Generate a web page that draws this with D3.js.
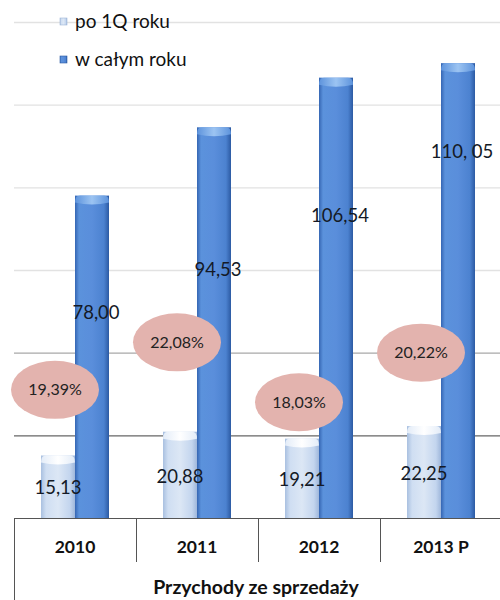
<!DOCTYPE html>
<html>
<head>
<meta charset="utf-8">
<script src="https://cdn.jsdelivr.net/npm/d3@7"></script>
<style>
    body { margin: 0; background: #fff; }
    svg { display: block; font-family: Lato, "Open Sans", sans-serif; }
</style>
</head>
<body>
<svg id="chart" width="500" height="600"></svg>
<script>
// Data
const years = ['2010', '2011', '2012', '2013 P'];
const q1Values = [15.13, 20.88, 19.21, 22.25];
const yearValues = [78.00, 94.53, 106.54, 110.05];
const shareLabels = ['19,39%', '22,08%', '18,03%', '20,22%'];
const seriesNames = ['po 1Q roku', 'w całym roku'];
const gridValues = [0, 20, 40, 60, 80, 100, 120];
const axisTitle = 'Przychody ze sprzedaży';

// Where the manually placed labels sit (in value units)
const yearLabelAt = [49.8, 60.2, 73.3, 88.6];
const shareLabelAt = [31, 42.5, 28, 40];

const fmt = v => v.toFixed(2).replace('.', ',');

const svg = d3.select('#chart');
const margin = { left: 14, right: -2, top: 22, bottom: 82 };
const width = 500 - margin.left - margin.right;
const height = 600 - margin.top - margin.bottom;

const x = d3.scaleBand().domain(years).range([0, width]).padding(0);
const y = d3.scaleLinear().domain([0, 120]).range([height, 0]);
const barW = 34;

const defs = svg.append('defs');
function hGrad(id, stops) {
    const g = defs.append('linearGradient').attr('id', id)
        .attr('x1', 0).attr('x2', 1).attr('y1', 0).attr('y2', 0);
    stops.forEach(s => g.append('stop').attr('offset', s[0]).attr('stop-color', s[1]));
}
hGrad('gDark', [[0, '#3566b3'], [0.12, '#5b92dc'], [0.5, '#5a8edb'], [0.85, '#4c82d0'], [1, '#2c5aa3']]);
hGrad('gLight', [[0, '#a9c0e0'], [0.15, '#cfdef2'], [0.5, '#dce7f5'], [0.85, '#c3d5ee'], [1, '#9fb7db']]);
hGrad('gDarkCap', [[0, '#5d93dc'], [0.5, '#9cc4f2'], [1, '#5d93dc']]);
hGrad('gLightCap', [[0, '#e3ecf8'], [0.5, '#ffffff'], [1, '#e3ecf8']]);

const g = svg.append('g').attr('transform', `translate(${margin.left},${margin.top})`);

// Gridlines
const gridColor = v => v === 20 ? '#666' : v === 40 ? '#a8a8a8' : '#e2e2e2';
g.selectAll('.grid')
    .data(gridValues.filter(v => v > 0))
    .join('line')
    .attr('class', 'grid')
    .attr('x1', 0).attr('x2', width)
    .attr('y1', d => y(d) + 0.5).attr('y2', d => y(d) + 0.5)
    .attr('stroke', gridColor).attr('stroke-width', 1.3);

// Bars
const rows = years.map((yr, i) => ({ yr, q1: q1Values[i], full: yearValues[i], i }));
const bandOff = (x.bandwidth() - 2 * barW) / 2;

function drawBars(cls, key, dx, fill, capFill) {
    const grp = g.selectAll('.' + cls)
        .data(rows)
        .join('g')
        .attr('class', cls)
        .attr('transform', d => `translate(${x(d.yr) + bandOff + dx},0)`);
    grp.append('rect')
        .attr('x', 0).attr('width', barW)
        .attr('y', d => y(d[key]))
        .attr('height', d => height - y(d[key]))
        .attr('fill', `url(#${fill})`);
    grp.append('path')
        .attr('d', d => {
            const t = y(d[key]);
            return `M0,${t + 7} Q0,${t} 5,${t} L${barW - 5},${t} Q${barW},${t} ${barW},${t + 7} Q${barW / 2},${t + 11} 0,${t + 7}Z`;
        })
        .attr('fill', `url(#${capFill})`);
}
drawBars('bar-q1', 'q1', 0, 'gLight', 'gLightCap');
drawBars('bar-full', 'full', barW, 'gDark', 'gDarkCap');

// Value labels
g.selectAll('.lbl-q1')
    .data(rows)
    .join('text')
    .attr('class', 'lbl-q1')
    .attr('x', d => x(d.yr) + bandOff + barW / 2)
    .attr('y', d => y(d.q1 * 0.48))
    .attr('dy', '0.35em')
    .attr('text-anchor', 'middle')
    .attr('font-size', 18.5)
    .attr('fill', '#141a26')
    .text(d => fmt(d.q1));

g.selectAll('.lbl-full')
    .data(rows)
    .join('text')
    .attr('class', 'lbl-full')
    .attr('x', d => x(d.yr) + bandOff + barW * 1.5 + 4)
    .attr('y', d => y(yearLabelAt[d.i]))
    .attr('dy', '0.35em')
    .attr('text-anchor', 'middle')
    .attr('font-size', 18.5)
    .attr('fill', '#141a26')
    .text(d => d.i === 3 ? fmt(d.full).replace(',', ', ') : fmt(d.full));

// Share ellipses
const shares = g.selectAll('.share')
    .data(rows)
    .join('g')
    .attr('class', 'share')
    .attr('transform', d => `translate(${x(d.yr) + bandOff + barW / 2 - 3},${y(shareLabelAt[d.i])})`);
shares.append('ellipse')
    .attr('rx', 44).attr('ry', 29)
    .attr('fill', '#e3b3ae');
shares.append('text')
    .attr('text-anchor', 'middle')
    .attr('dy', '0.35em')
    .attr('font-size', 16)
    .attr('fill', '#222')
    .text(d => shareLabels[d.i]);

// Axis line and category table
g.append('line')
    .attr('x1', 0).attr('x2', width)
    .attr('y1', height + 0.5).attr('y2', height + 0.5)
    .attr('stroke', '#555').attr('stroke-width', 1.2);

g.selectAll('.sep')
    .data(years)
    .join('line')
    .attr('class', 'sep')
    .attr('x1', d => x(d) + 0.5).attr('x2', d => x(d) + 0.5)
    .attr('y1', height)
    .attr('y2', (d, i) => i === 0 ? 600 - margin.top : height + 44)
    .attr('stroke', '#555').attr('stroke-width', 1);

g.selectAll('.cat')
    .data(years)
    .join('text')
    .attr('class', 'cat')
    .attr('x', d => x(d) + x.bandwidth() / 2)
    .attr('y', height + 35)
    .attr('text-anchor', 'middle')
    .attr('font-size', 17.5)
    .attr('font-weight', 'bold')
    .attr('fill', '#111')
    .text(d => d);

g.append('text')
    .attr('x', 256 - margin.left)
    .attr('y', height + 76)
    .attr('text-anchor', 'middle')
    .attr('font-size', 19.5)
    .attr('font-weight', 'bold')
    .attr('fill', '#111')
    .text(axisTitle);

// Legend
const legend = svg.append('g').attr('transform', 'translate(60,18)');
const leg = legend.selectAll('.leg')
    .data(seriesNames)
    .join('g')
    .attr('class', 'leg')
    .attr('transform', (d, i) => `translate(0,${i * 38})`);
leg.append('rect')
    .attr('width', 7).attr('height', 7)
    .attr('fill', (d, i) => i === 0 ? 'url(#gLight)' : 'url(#gDark)')
    .attr('stroke', (d, i) => i === 0 ? '#9fb5d6' : '#2c5aa3')
    .attr('stroke-width', 0.6);
leg.append('text')
    .attr('x', 15)
    .attr('y', 3.5)
    .attr('dy', '0.35em')
    .attr('font-size', 19)
    .attr('fill', '#111')
    .text(d => d);
</script>
</body>
</html>
